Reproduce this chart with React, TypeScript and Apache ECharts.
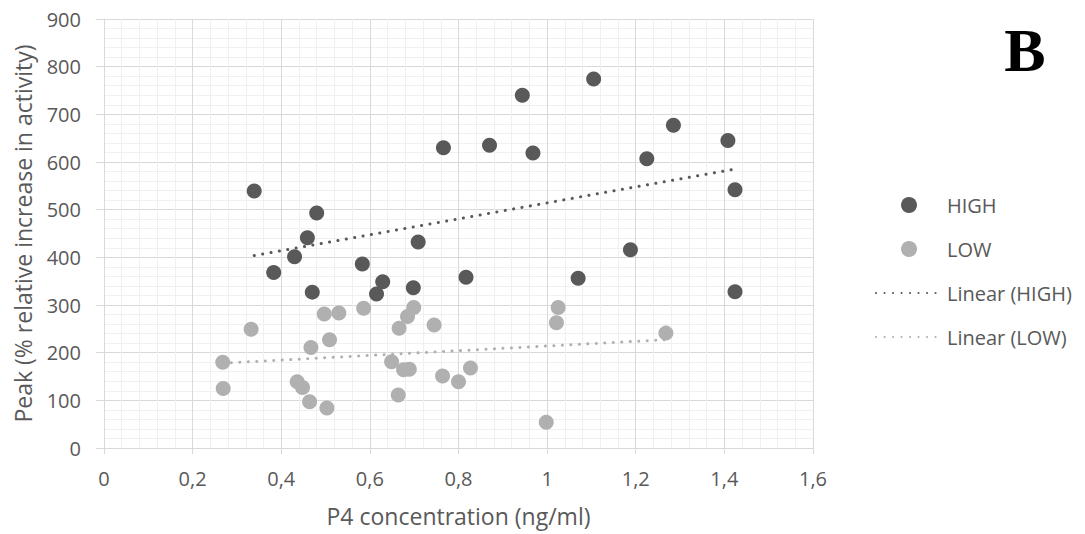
import React, { useEffect, useRef } from "react";
import * as echarts from "echarts";

const highX = [0.339, 0.383, 0.43, 0.459, 0.47, 0.48, 0.583, 0.615, 0.629, 0.698, 0.709, 0.766, 0.817, 0.87, 0.944, 0.968, 1.07, 1.105, 1.188, 1.225, 1.285, 1.408, 1.424, 1.424];
const highY = [539, 368, 401, 441, 327, 493, 386, 323, 349, 336, 432, 630, 358, 635, 740, 619, 356, 774, 416, 607, 677, 645, 542, 328];
const lowX = [0.268, 0.269, 0.332, 0.436, 0.448, 0.464, 0.467, 0.497, 0.503, 0.509, 0.53, 0.586, 0.649, 0.664, 0.666, 0.676, 0.685, 0.689, 0.699, 0.745, 0.764, 0.8, 0.827, 0.998, 1.021, 1.025, 1.268];
const lowY = [180, 125, 249, 139, 127, 97, 211, 281, 84, 227, 283, 293, 181, 111, 251, 164, 276, 165, 295, 258, 151, 139, 168, 54, 263, 295, 241];

const seriesNames = ["HIGH", "LOW", "Linear (HIGH)", "Linear (LOW)"];
const xTicks = { min: 0, max: 1.6, interval: 0.2 };
const yTicks = { min: 0, max: 900, interval: 100 };
const xTitle = "P4 concentration (ng/ml)";
const yTitle = "Peak (% relative increase in activity)";
const panelLetter = "B";

function fit(xs: number[], ys: number[]) {
  const n = xs.length;
  const mx = xs.reduce((a, b) => a + b, 0) / n;
  const my = ys.reduce((a, b) => a + b, 0) / n;
  let sxy = 0, sxx = 0;
  for (let i = 0; i < n; i++) {
    sxy += (xs[i] - mx) * (ys[i] - my);
    sxx += (xs[i] - mx) * (xs[i] - mx);
  }
  const b = sxy / sxx;
  const a = my - b * mx;
  const x0 = Math.min(...xs);
  const x1 = Math.max(...xs);
  return [[x0, a + b * x0], [x1, a + b * x1]];
}

const DARK = "#595959";
const LIGHT = "#b0b0b0";
const FONT = "Open Sans";
const NOSYM = { color: "rgba(0,0,0,0)", borderColor: "rgba(0,0,0,0)", borderWidth: 0 };

export default function App() {
  const ref = useRef<HTMLDivElement>(null);
  useEffect(() => {
    document.body.style.margin = "0";
    const chart = echarts.init(ref.current!, null, { renderer: "svg" });
    const zip = (xs: number[], ys: number[]) => xs.map((x, i) => [x, ys[i]]);
    chart.setOption({
      animation: false,
      backgroundColor: "#ffffff",
      textStyle: { fontFamily: FONT },
      grid: { left: 104, right: 272, top: 19, bottom: 86 },
      legend: {
        orient: "vertical",
        left: 870,
        top: 188,
        itemWidth: 66,
        itemHeight: 16,
        itemGap: 20,
        data: [
          { name: seriesNames[0] },
          { name: seriesNames[1] },
          { name: seriesNames[2], itemStyle: NOSYM },
          { name: seriesNames[3], itemStyle: NOSYM },
        ],
        textStyle: { color: DARK, fontSize: 20, fontFamily: FONT, lineHeight: 24 },
      },
      xAxis: {
        type: "value",
        min: xTicks.min,
        max: xTicks.max,
        interval: xTicks.interval,
        name: xTitle,
        nameLocation: "middle",
        nameGap: 56,
        nameTextStyle: { color: DARK, fontSize: 23, fontFamily: FONT },
        axisLine: { show: true, lineStyle: { color: "#d9d9d9", width: 1 } },
        axisTick: { show: true, length: 6, lineStyle: { color: "#d9d9d9" } },
        axisLabel: {
          color: DARK,
          fontSize: 20,
          margin: 20,
          formatter: (v: number) => String(Number(v.toFixed(1))).replace(".", ","),
        },
        splitLine: { show: true, lineStyle: { color: "#d9d9d9", width: 1 } },
        minorTick: { show: false, splitNumber: 5 },
        minorSplitLine: { show: true, lineStyle: { color: "#f0f0f0", width: 1 } },
      },
      yAxis: {
        type: "value",
        min: yTicks.min,
        max: yTicks.max,
        interval: yTicks.interval,
        name: yTitle,
        nameLocation: "middle",
        nameGap: 70,
        nameTextStyle: { color: DARK, fontSize: 23, fontFamily: FONT },
        axisLine: { show: true, lineStyle: { color: "#d9d9d9", width: 1 } },
        axisTick: { show: true, length: 8, lineStyle: { color: "#d9d9d9" } },
        axisLabel: { color: DARK, fontSize: 20, margin: 23 },
        splitLine: { show: true, lineStyle: { color: "#d9d9d9", width: 1 } },
        minorTick: { show: false, splitNumber: 5 },
        minorSplitLine: { show: true, lineStyle: { color: "#f0f0f0", width: 1 } },
      },
      graphic: [
        {
          type: "text",
          x: 1025,
          y: 50,
          style: {
            text: panelLetter,
            font: "bold 62px 'Liberation Serif', 'Times New Roman', serif",
            fill: "#000000",
            textAlign: "center",
            textVerticalAlign: "middle",
          },
        },
      ],
      series: [
        {
          name: seriesNames[0],
          type: "scatter",
          symbol: "circle",
          symbolSize: 15,
          itemStyle: { color: DARK, opacity: 1 },
          data: zip(highX, highY),
          z: 2,
        },
        {
          name: seriesNames[1],
          type: "scatter",
          symbol: "circle",
          symbolSize: 15,
          itemStyle: { color: LIGHT, opacity: 1 },
          data: zip(lowX, lowY),
          z: 3,
        },
        {
          name: seriesNames[2],
          type: "line",
          symbol: "none",
          data: fit(highX, highY),
          lineStyle: { color: DARK, width: 3, type: [0.1, 8.4], cap: "round" },
          itemStyle: { color: DARK },
          z: 4,
        },
        {
          name: seriesNames[3],
          type: "line",
          symbol: "none",
          data: fit(lowX, lowY),
          lineStyle: { color: LIGHT, width: 3, type: [0.1, 8.4], cap: "round" },
          itemStyle: { color: LIGHT },
          z: 4,
        },
      ],
    });
    return () => chart.dispose();
  }, []);
  return <div ref={ref} style={{ width: 1085, height: 534 }} />;
}
